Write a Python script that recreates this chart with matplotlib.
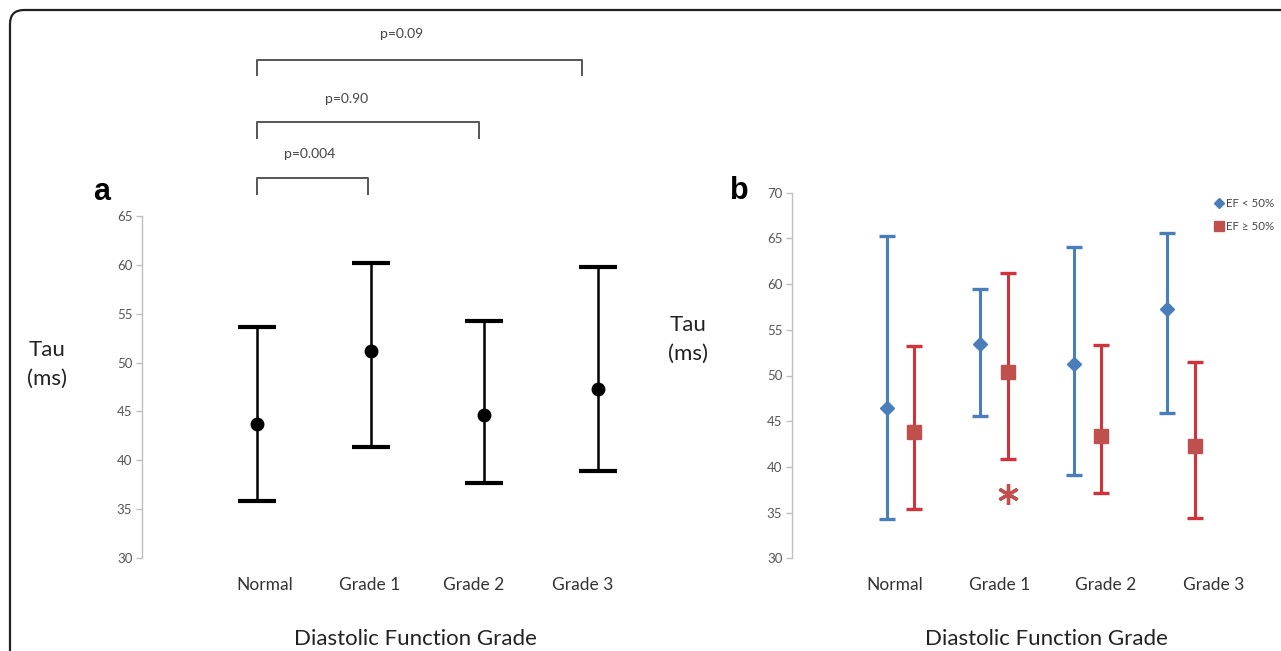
import matplotlib
matplotlib.use('Agg')
import matplotlib.pyplot as plt
import numpy as np
from matplotlib.lines import Line2D
from matplotlib.patches import FancyBboxPatch
from matplotlib.transforms import IdentityTransform

plt.rcParams['font.family'] = ['Lato', 'DejaVu Sans']

# ---- data ----
grades = ['Normal', 'Grade 1', 'Grade 2', 'Grade 3']

# panel a: all patients
tau_mean = [43.7, 51.2, 44.6, 47.3]
tau_hi = [53.6, 60.2, 54.3, 59.8]
tau_lo = [35.8, 41.4, 37.7, 38.9]

# panel b: split by ejection fraction
ef_low_mean = [46.4, 53.5, 51.3, 57.3]
ef_low_hi = [65.3, 59.5, 64.1, 65.6]
ef_low_lo = [34.3, 45.6, 39.1, 45.9]
ef_high_mean = [43.8, 50.4, 43.4, 42.3]
ef_high_hi = [53.2, 61.2, 53.3, 51.5]
ef_high_lo = [35.4, 40.85, 37.1, 34.4]

pvals = ['p=0.004', 'p=0.90', 'p=0.09']
yticks_a = [30, 35, 40, 45, 50, 55, 60, 65]
yticks_b = [30, 35, 40, 45, 50, 55, 60, 65, 70]

W, H = 1281, 651
fig = plt.figure(figsize=(W / 100, H / 100), dpi=100)


def px_axes(left, right, top, bottom):
    return fig.add_axes([left / W, 1 - bottom / H, (right - left) / W, (bottom - top) / H])


def style_axis(ax):
    for s in ['top', 'right', 'bottom']:
        ax.spines[s].set_visible(False)
    ax.spines['left'].set_color('#bfbfbf')
    ax.spines['left'].set_linewidth(1.0)
    ax.tick_params(axis='y', colors='#bfbfbf', labelcolor='#555555', labelsize=9.5,
                   length=4, width=1.0, direction='out', pad=3)
    ax.tick_params(axis='x', length=0, labelsize=12.5, labelcolor='#333333', pad=13.5)


# ---- panel a ----
axa = px_axes(142, 640, 216, 558)
x = np.arange(len(grades))
m = np.array(tau_mean)
axa.errorbar(x, m, yerr=[m - np.array(tau_lo), np.array(tau_hi) - m], fmt='o', color='black',
             ms=9, elinewidth=1.8, capsize=14, capthick=3)
axa.set_ylim(30, 65)
axa.set_xlim(-1.01, 3.37)
axa.set_yticks(yticks_a)
axa.set_xticks([0.07, 0.99, 1.91, 2.87])
axa.set_xticklabels(grades)
style_axis(axa)

# comparison brackets (Normal vs each grade)
br_right = [0.976, 1.95, 2.86]
br_top = [68.9, 74.6, 81.0]
br_text = [(0.466, 71.3), (0.79, 77.0), (1.275, 83.6)]
for r, t, (tx, ty), lab in zip(br_right, br_top, br_text, pvals):
    axa.plot([0, 0, r, r], [t - 1.6, t, t, t - 1.6], color='#555555', lw=1.4, clip_on=False)
    axa.text(tx, ty, lab, ha='center', va='center', fontsize=10, color='#444444')

fig.text(102 / W, 1 - 192 / H, 'a', fontsize=22, fontweight='bold',
         family='Liberation Sans', ha='center', va='center')
fig.text(47 / W, 1 - 364 / H, 'Tau\n(ms)', fontsize=16, color='#222222',
         ha='center', va='center', linespacing=1.55)
fig.text(415 / W, 1 - 639 / H, 'Diastolic Function Grade', fontsize=16, color='#222222',
         ha='center', va='center')

# ---- panel b ----
axb = px_axes(792, 1270, 192.7, 558.3)
blue = '#4a7ebb'
red_line = '#d2323a'
red_mark = '#c0504d'
off = 0.147
m1 = np.array(ef_low_mean)
axb.errorbar(x - off, m1, yerr=[m1 - np.array(ef_low_lo), np.array(ef_low_hi) - m1], fmt='D',
             color=blue, mfc=blue, mec=blue, ms=7.5, ecolor=blue, elinewidth=2.2,
             capsize=6, capthick=2.4)
m2 = np.array(ef_high_mean)
axb.errorbar(x + off, m2, yerr=[m2 - np.array(ef_high_lo), np.array(ef_high_hi) - m2], fmt='s',
             color=red_mark, mfc=red_mark, mec=red_mark, ms=10, ecolor=red_line, elinewidth=2.2,
             capsize=6, capthick=2.4)
# significance marker under grade 1
axb.plot([1 + off], [37.0], marker=(6, 2, 0), ms=15, mew=2.4, color=red_mark, ls='none')

axb.set_ylim(30, 70)
axb.set_xlim(-1.157, 3.95)
axb.set_yticks(yticks_b)
axb.set_xticks([-0.06, 1.065, 2.19, 3.35])
axb.set_xticklabels(grades)
style_axis(axb)

handles = [Line2D([], [], marker='D', color=blue, ls='none', ms=5),
           Line2D([], [], marker='s', color=red_mark, ls='none', ms=6.5)]
axb.legend(handles, ['EF < 50%', 'EF \u2265 50%'], loc='upper left',
           bbox_to_anchor=(1210 / W, 1 - 192 / H), bbox_transform=fig.transFigure,
           frameon=False, fontsize=8.3, handlelength=0.6, handletextpad=0.3,
           labelspacing=1.1, borderpad=0, labelcolor='#444444')

fig.text(739 / W, 1 - 191 / H, 'b', fontsize=22, fontweight='bold',
         family='Liberation Sans', ha='center', va='center')
fig.text(688 / W, 1 - 339 / H, 'Tau\n(ms)', fontsize=16, color='#222222',
         ha='center', va='center', linespacing=1.55)
fig.text(1046 / W, 1 - 639 / H, 'Diastolic Function Grade', fontsize=16, color='#222222',
         ha='center', va='center')

# rounded outer frame
frame = FancyBboxPatch((10, -40), 1300, H - 10 + 40,
                       boxstyle='round,pad=0,rounding_size=14', transform=IdentityTransform(),
                       fill=False, ec='#222222', lw=1.6)
fig.patches.append(frame)

fig.savefig('out.png', dpi=100)
